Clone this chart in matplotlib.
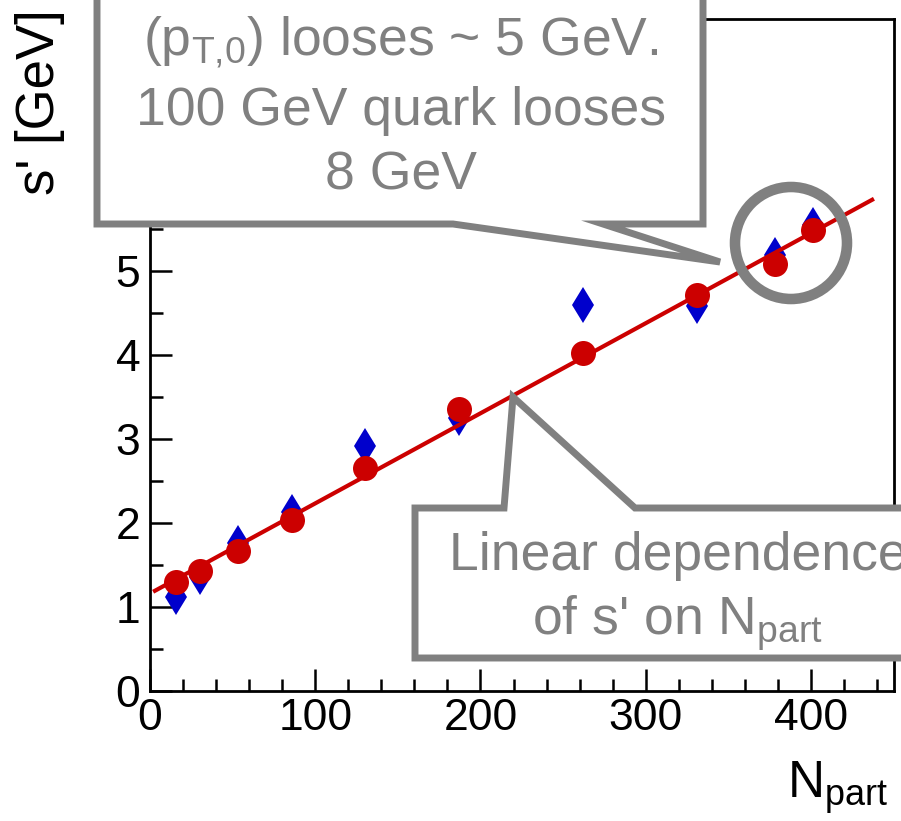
import matplotlib
matplotlib.use("Agg")
import matplotlib.pyplot as plt
import matplotlib.transforms as mtransforms
from matplotlib.patches import Circle, Polygon
from matplotlib.ticker import MultipleLocator

W, H, DPI = 901, 821, 100

# participant number and fitted s' for the two calculations
npart = [16, 30, 53, 86, 130, 187, 262, 331, 378, 401]
s_circles = [1.30, 1.43, 1.66, 2.03, 2.65, 3.36, 4.02, 4.71, 5.09, 5.49]
s_diamonds = [1.12, 1.35, 1.76, 2.13, 2.91, 3.25, 4.60, 4.58, 5.19, 5.55]

# straight-line fit drawn across the data
fit_npart = [3, 437]
fit_s = [1.19, 5.85]

x_ticks = [0, 100, 200, 300, 400]
y_ticks = [0, 1, 2, 3, 4, 5, 6, 7, 8]

note_top = [r"$\mathregular{(p_{T{,}0})}$ looses ~ 5 GeV.",
            "100 GeV quark looses",
            "8 GeV"]
note_bottom = ["Linear dependence",
               r"of s' on $\mathregular{N_{part}}$"]

RED = "#cc0000"
BLUE = "#0000cc"
GREY = "#808080"

plt.rcParams["font.family"] = ["Liberation Sans", "DejaVu Sans"]
plt.rcParams["mathtext.fontset"] = "custom"
plt.rcParams["mathtext.rm"] = "Liberation Sans"

fig = plt.figure(figsize=(W / DPI, H / DPI), dpi=DPI)
ax = fig.add_axes([150 / W, (H - 690.6) / H, 743.6 / W, 671.2 / H])

ax.plot(npart, s_diamonds, linestyle="none", marker="d", markersize=18,
        color=BLUE, markeredgewidth=0, zorder=2)
ax.plot(fit_npart, fit_s, color=RED, linewidth=3.0, zorder=3)
ax.plot(npart, s_circles, linestyle="none", marker="o", markersize=18,
        color=RED, markeredgewidth=0, zorder=4)

ax.set_xlim(0, 450)
ax.set_ylim(0, 8)
ax.set_xticks(x_ticks)
ax.set_yticks(y_ticks)
ax.xaxis.set_minor_locator(MultipleLocator(20))
ax.yaxis.set_minor_locator(MultipleLocator(0.5))
ax.tick_params(which="both", direction="in", width=1.8, colors="black",
               labelsize=32, top=False, right=False)
ax.tick_params(which="major", length=16)
ax.tick_params(which="minor", length=9)
ax.tick_params(axis="x", pad=5)
ax.tick_params(axis="y", pad=7)
for spine in ax.spines.values():
    spine.set_linewidth(2.0)
    spine.set_color("black")

# helper transform: pixel coordinates measured from the top-left corner
px = mtransforms.Affine2D().scale(1 / W, -1 / H).translate(0, 1) + fig.transFigure

fig.text(40, 9, "s' [GeV]", transform=px, rotation=90, ha="center", va="top",
         fontsize=38, color="black")
fig.text(888, 798, r"$\mathregular{N_{part}}$", transform=px, ha="right",
         va="baseline", fontsize=37, color="black")

box_top = [(97, -30), (97, 224), (453, 224), (720, 262), (603, 224),
           (703, 224), (703, -30)]
box_bottom = [(415, 508), (504, 508), (513, 397), (635, 508), (930, 508),
              (930, 658), (415, 658)]
for verts in (box_top, box_bottom):
    fig.add_artist(Polygon(verts, closed=True, transform=px, facecolor="white",
                           edgecolor=GREY, linewidth=5, joinstyle="miter",
                           zorder=5))

fig.add_artist(Circle((791, 243), 56, transform=px, fill=False,
                      edgecolor=GREY, linewidth=7.6, zorder=5))

for line, base in zip(note_top, [55, 125, 190]):
    fig.text(401, base, line, transform=px, ha="center", va="baseline",
             fontsize=38.5, color=GREY, zorder=6)
for line, base in zip(note_bottom, [570, 635]):
    fig.text(678, base, line, transform=px, ha="center", va="baseline",
             fontsize=38.5, color=GREY, zorder=6)

fig.savefig("out.png", dpi=DPI, facecolor="white")
